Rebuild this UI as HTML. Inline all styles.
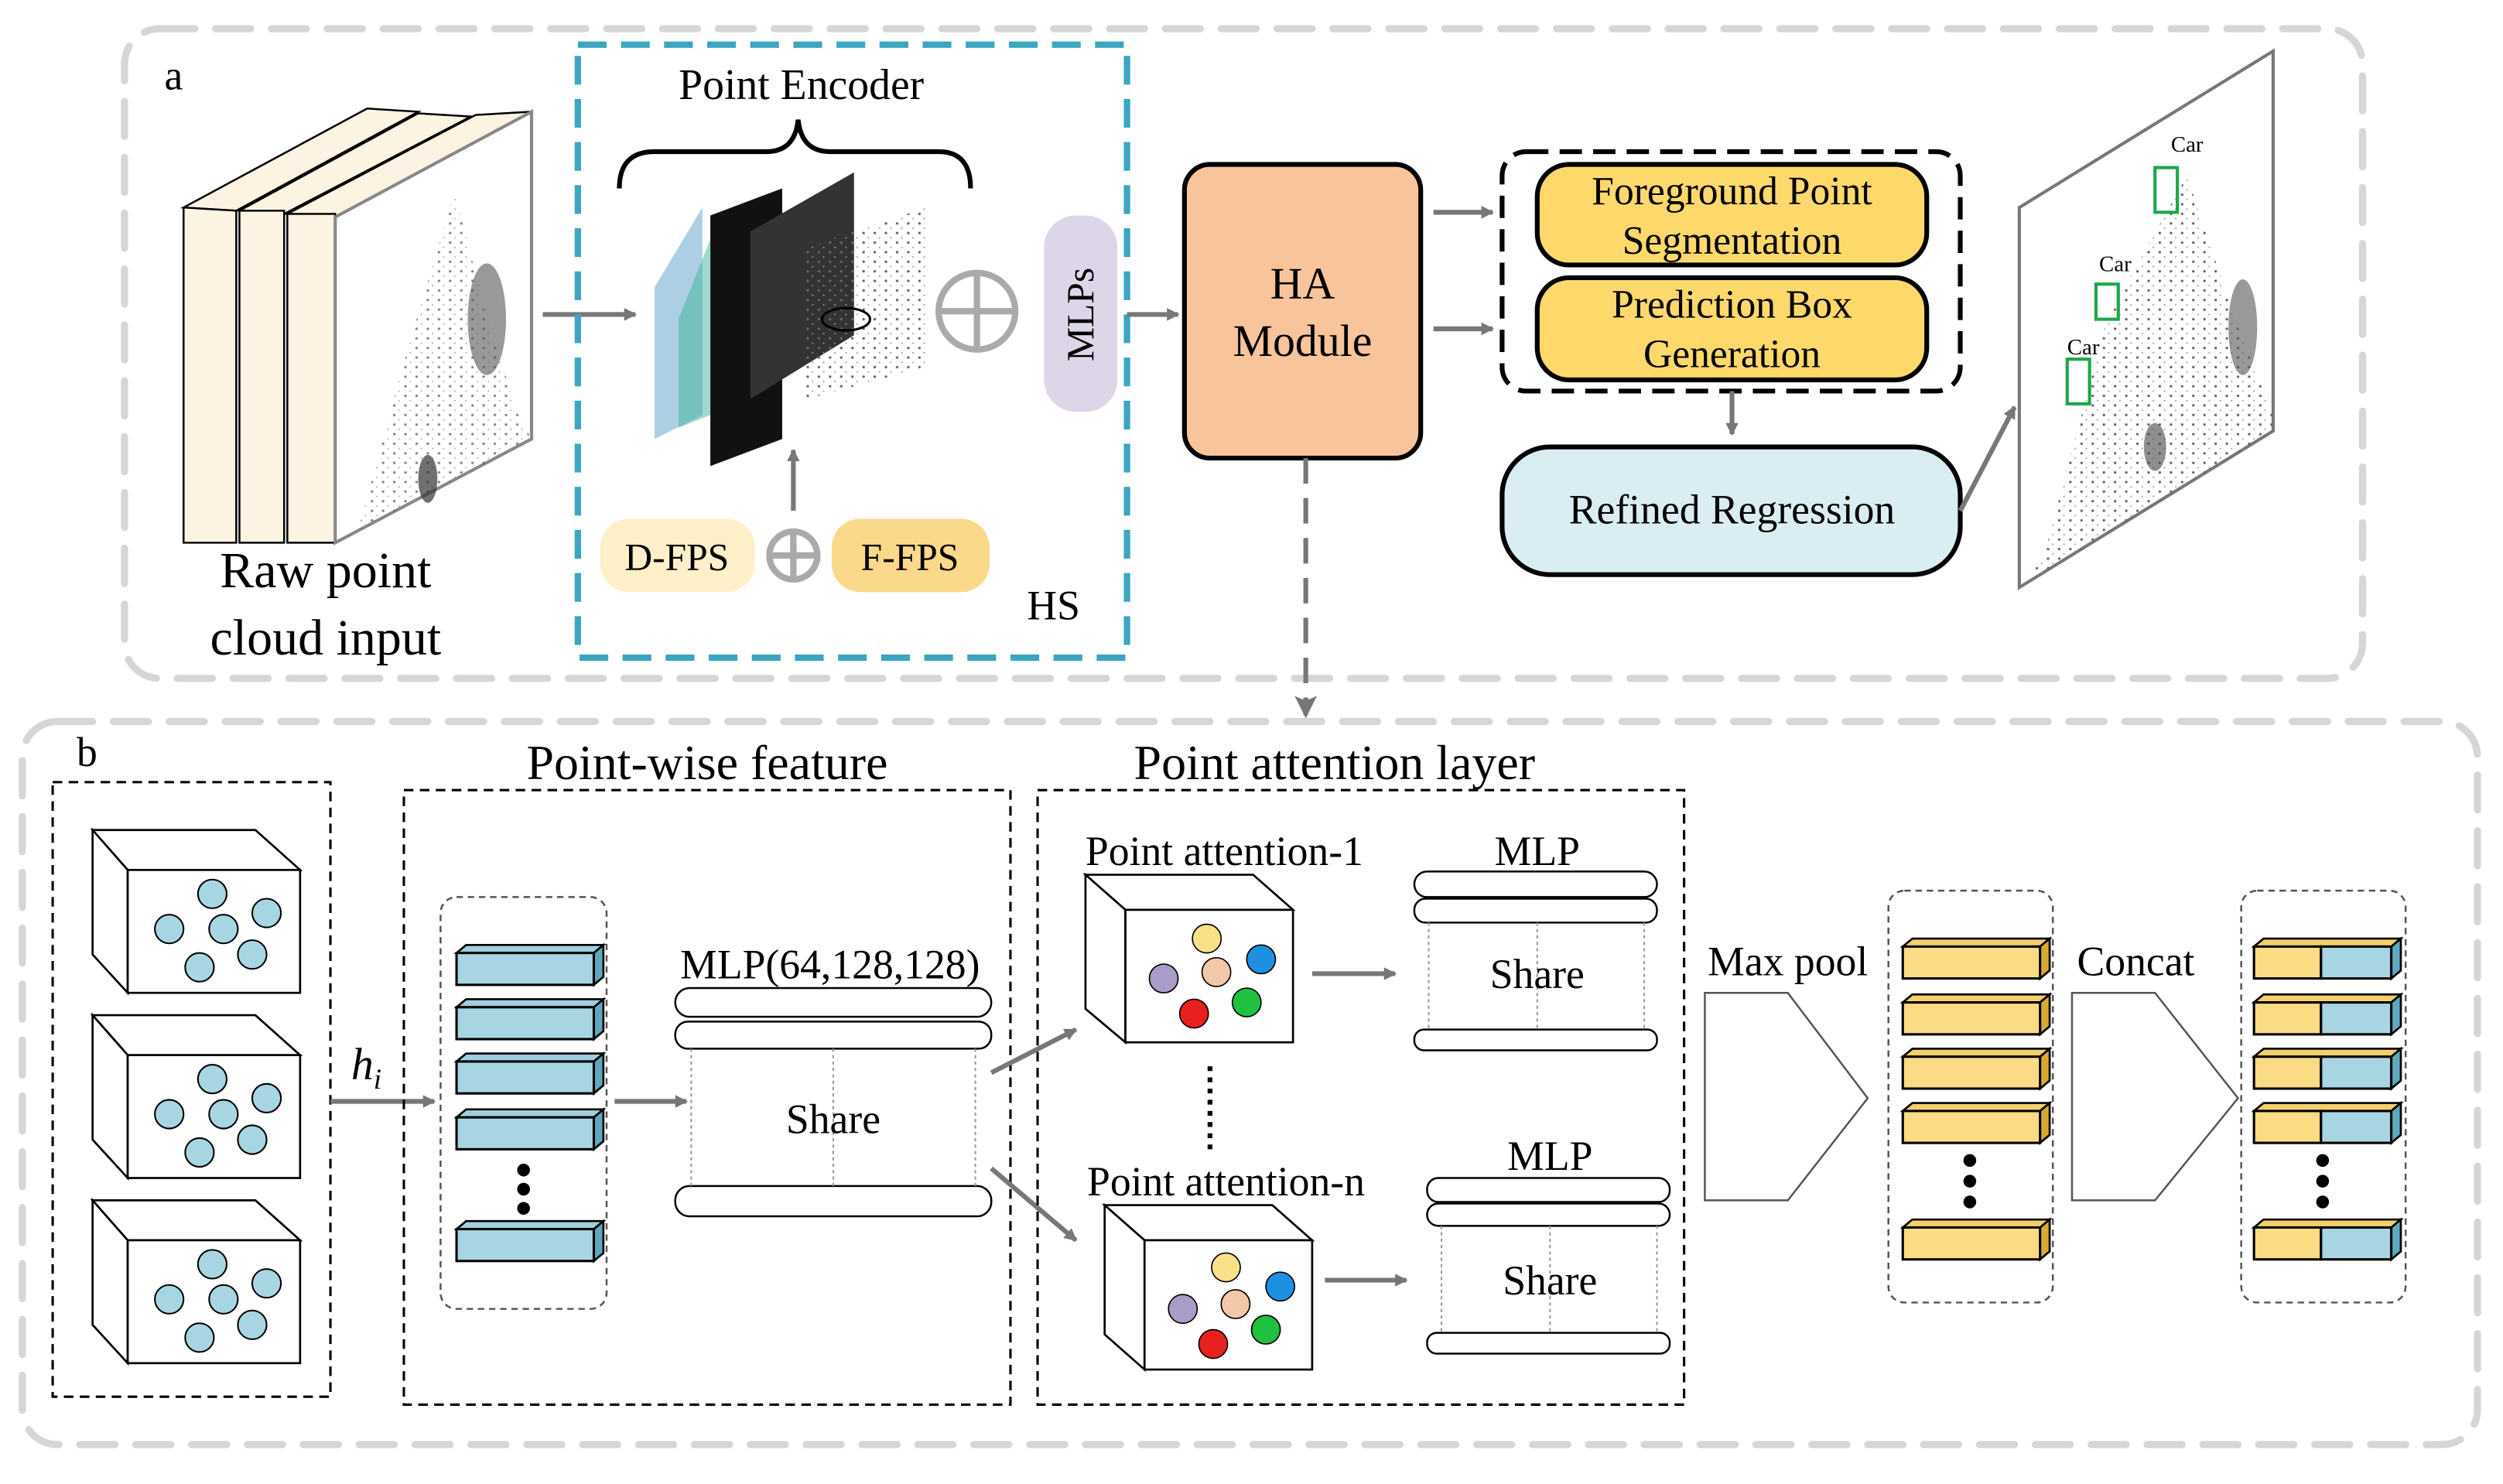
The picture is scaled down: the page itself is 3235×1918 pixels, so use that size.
<!DOCTYPE html>
<html><head><meta charset="utf-8"><style>
html,body{margin:0;padding:0;background:#fff;}
svg{display:block;}
text{font-family:"Liberation Serif",serif;fill:#000;}
</style></head><body>
<svg width="3235" height="1918" viewBox="0 0 1568 929.7" preserveAspectRatio="none" xmlns="http://www.w3.org/2000/svg">
<defs>
<marker id="ag" markerWidth="8" markerHeight="8" refX="7" refY="4" orient="auto" markerUnits="userSpaceOnUse"><path d="M0,0 L8,4 L0,8 z" fill="#777"/></marker>
<marker id="ag2" markerWidth="14" markerHeight="14" refX="12" refY="7" orient="auto" markerUnits="userSpaceOnUse"><path d="M0,0 L14,7 L0,14 L3,7 z" fill="#777"/></marker>
<pattern id="dots" width="7" height="6" patternUnits="userSpaceOnUse"><circle cx="2" cy="2" r="0.8" fill="#666"/><circle cx="5" cy="5" r="0.5" fill="#999"/></pattern>
<g id="cube">
<polygon points="0,0 102,0 130,25 22,25" fill="#fff" stroke="#000" stroke-width="1.3"/>
<polygon points="0,0 22,25 22,102 0,78" fill="#fff" stroke="#000" stroke-width="1.3"/>
<rect x="22" y="25" width="108" height="77" fill="#fff" stroke="#000" stroke-width="1.3"/>
</g>
<g id="bbar"><polygon points="0,0 6,-5 92,-5 86,0" fill="#9fcfdc" stroke="#000" stroke-width="1.3"/><polygon points="86,0 92,-5 92,15 86,20" fill="#5fa9bd" stroke="#000" stroke-width="1.3"/><rect x="0" y="0" width="86" height="20" fill="#a8d5e2" stroke="#000" stroke-width="1.5"/></g>
<g id="ybar"><polygon points="0,0 6,-5 92,-5 86,0" fill="#f5cf6c" stroke="#000" stroke-width="1.3"/><polygon points="86,0 92,-5 92,15 86,20" fill="#d9aa30" stroke="#000" stroke-width="1.3"/><rect x="0" y="0" width="86" height="20" fill="#fcdb85" stroke="#000" stroke-width="1.5"/></g>
<g id="cbar"><polygon points="0,0 6,-5 92,-5 86,0" fill="#f5cf6c" stroke="#000" stroke-width="1.3"/><polygon points="86,0 92,-5 92,15 86,20" fill="#5fa9bd" stroke="#000" stroke-width="1.3"/><rect x="0" y="0" width="42" height="20" fill="#fcdb85" stroke="#000" stroke-width="1.5"/><rect x="42" y="0" width="44" height="20" fill="#a8d5e2" stroke="#000" stroke-width="1.5"/></g>
</defs>

<!-- Panel a -->
<rect x="78" y="18" width="1402" height="407" rx="22" fill="none" stroke="#d6d6d6" stroke-width="4.5" stroke-dasharray="22 13" stroke-linecap="round"/>
<text x="103" y="56" font-size="26">a</text>

<g stroke="#000" stroke-width="1.2">
<polygon points="115,130 148,132 262,70 230,68" fill="#fdf3e3"/>
<polygon points="115,130 148,132 148,340 115,340" fill="#fdf3e3"/>
<polygon points="150,132 178,134 295,73 262,71" fill="#fdf3e3"/>
<rect x="150" y="132" width="28" height="208" fill="#fdf3e3"/>
<polygon points="180,134 210,136 333,70 298,72" fill="#fdf3e3"/>
<rect x="180" y="134" width="30" height="206" fill="#fdf3e3"/>
<polygon points="210,136 333,70 333,275 210,340" fill="#fff" stroke="#888" stroke-width="2"/>
</g>
<path d="M225,330 L255,220 L285,120 L305,200 L325,260 L333,275 L210,340 z" fill="url(#dots)" opacity="0.8"/>
<ellipse cx="305" cy="200" rx="12" ry="35" fill="#555" opacity="0.6"/>
<ellipse cx="268" cy="300" rx="6" ry="15" fill="#333" opacity="0.7"/>
<text x="204" y="368" font-size="32" text-anchor="middle">Raw point</text>
<text x="204" y="410" font-size="32" text-anchor="middle">cloud input</text>
<line x1="340" y1="197" x2="398" y2="197" stroke="#777" stroke-width="3" marker-end="url(#ag)"/>

<!-- HS box -->
<rect x="362" y="28" width="344" height="384" fill="none" stroke="#3aa6c0" stroke-width="4" stroke-dasharray="18 9"/>
<text x="502" y="62" font-size="27" text-anchor="middle">Point Encoder</text>
<path d="M388,118 Q388,95 410,95 L480,95 Q498,95 500,75 Q502,95 520,95 L588,95 Q608,95 608,118" fill="none" stroke="#000" stroke-width="3"/>
<polygon points="410,180 440,130 440,260 410,275" fill="#5b9fc8" opacity="0.5"/>
<polygon points="425,200 445,150 445,260 425,268" fill="#3cb49a" opacity="0.5"/>
<polygon points="445,135 490,118 490,275 445,292" fill="#111"/>
<polygon points="470,145 535,108 535,210 470,250" fill="#333"/>
<polygon points="505,155 580,130 580,230 505,250" fill="url(#dots)"/>
<ellipse cx="530" cy="200" rx="15" ry="7" fill="none" stroke="#000" stroke-width="1.5"/>
<circle cx="612" cy="195" r="24" fill="none" stroke="#aaa" stroke-width="4"/>
<line x1="588" y1="195" x2="636" y2="195" stroke="#aaa" stroke-width="4"/>
<line x1="612" y1="171" x2="612" y2="219" stroke="#aaa" stroke-width="4"/>
<rect x="654" y="135" width="46" height="123" rx="20" fill="#ddd6e8"/>
<text x="677" y="197" font-size="24" text-anchor="middle" transform="rotate(-90 677 197)" dy="8">MLPs</text>
<line x1="497" y1="320" x2="497" y2="282" stroke="#777" stroke-width="3" marker-end="url(#ag)"/>
<rect x="376" y="325" width="97" height="46" rx="18" fill="#fdf0c8"/>
<text x="424" y="357" font-size="24" text-anchor="middle">D-FPS</text>
<circle cx="497" cy="348" r="15" fill="none" stroke="#aaa" stroke-width="4"/>
<line x1="482" y1="348" x2="512" y2="348" stroke="#aaa" stroke-width="4"/>
<line x1="497" y1="333" x2="497" y2="363" stroke="#aaa" stroke-width="4"/>
<rect x="521" y="325" width="99" height="46" rx="18" fill="#fad98a"/>
<text x="570" y="357" font-size="24" text-anchor="middle">F-FPS</text>
<text x="660" y="388" font-size="26" text-anchor="middle">HS</text>
<line x1="706" y1="197" x2="738" y2="197" stroke="#777" stroke-width="3" marker-end="url(#ag)"/>

<!-- HA module -->
<rect x="742" y="103" width="148" height="184" rx="16" fill="#f7c49b" stroke="#000" stroke-width="3"/>
<text x="816" y="187" font-size="28" text-anchor="middle">HA</text>
<text x="816" y="223" font-size="28" text-anchor="middle">Module</text>
<line x1="898" y1="133" x2="935" y2="133" stroke="#777" stroke-width="3" marker-end="url(#ag)"/>
<line x1="898" y1="206" x2="935" y2="206" stroke="#777" stroke-width="3" marker-end="url(#ag)"/>
<rect x="941" y="95" width="287" height="150" rx="15" fill="none" stroke="#000" stroke-width="3" stroke-dasharray="14 7"/>
<rect x="963" y="103" width="244" height="63" rx="20" fill="#fdd96b" stroke="#000" stroke-width="3"/>
<text x="1085" y="128" font-size="25" text-anchor="middle">Foreground Point</text>
<text x="1085" y="159" font-size="25" text-anchor="middle">Segmentation</text>
<rect x="963" y="174" width="244" height="64" rx="20" fill="#fdd96b" stroke="#000" stroke-width="3"/>
<text x="1085" y="199" font-size="25" text-anchor="middle">Prediction Box</text>
<text x="1085" y="230" font-size="25" text-anchor="middle">Generation</text>
<line x1="1085" y1="245" x2="1085" y2="272" stroke="#777" stroke-width="3" marker-end="url(#ag)"/>
<rect x="941" y="280" width="287" height="80" rx="30" fill="#daedf2" stroke="#000" stroke-width="3"/>
<text x="1085" y="328" font-size="26" text-anchor="middle">Refined Regression</text>
<line x1="1228" y1="320" x2="1262" y2="255" stroke="#777" stroke-width="3" marker-end="url(#ag)"/>
<polygon points="1265,130 1424,32 1424,270 1265,368" fill="#fff" stroke="#777" stroke-width="2"/>
<path d="M1280,350 L1320,200 L1370,110 L1400,200 L1424,260 L1424,270 L1265,368z" fill="url(#dots)"/>
<ellipse cx="1405" cy="205" rx="9" ry="30" fill="#555" opacity="0.6"/>
<ellipse cx="1350" cy="280" rx="7" ry="15" fill="#444" opacity="0.6"/>
<g fill="none" stroke="#1aa84a" stroke-width="2">
<rect x="1295" y="225" width="14" height="28"/><rect x="1313" y="178" width="14" height="22"/><rect x="1350" y="105" width="14" height="28"/>
</g>
<g fill="#1aa84a" font-size="14"><text x="1295" y="222">Car</text><text x="1315" y="170">Car</text><text x="1360" y="95">Car</text></g>
<line x1="818" y1="287" x2="818" y2="448" stroke="#777" stroke-width="3" stroke-dasharray="16 9" marker-end="url(#ag2)"/>

<!-- Panel b -->
<rect x="14" y="452" width="1538" height="453" rx="22" fill="none" stroke="#d6d6d6" stroke-width="4.5" stroke-dasharray="22 13" stroke-linecap="round"/>
<text x="48" y="480" font-size="26">b</text>
<rect x="33" y="490" width="174" height="385" fill="none" stroke="#000" stroke-width="1.5" stroke-dasharray="6 4"/>
<use href="#cube" x="58" y="520"/>
<use href="#cube" x="58" y="636"/>
<use href="#cube" x="58" y="752"/>
<g fill="#a8d5e2" stroke="#000" stroke-width="1">
<circle cx="133" cy="560" r="9"/><circle cx="106" cy="582" r="9"/><circle cx="140" cy="582" r="9"/><circle cx="167" cy="572" r="9"/><circle cx="125" cy="606" r="9"/><circle cx="158" cy="598" r="9"/>
<circle cx="133" cy="676" r="9"/><circle cx="106" cy="698" r="9"/><circle cx="140" cy="698" r="9"/><circle cx="167" cy="688" r="9"/><circle cx="125" cy="722" r="9"/><circle cx="158" cy="714" r="9"/>
<circle cx="133" cy="792" r="9"/><circle cx="106" cy="814" r="9"/><circle cx="140" cy="814" r="9"/><circle cx="167" cy="804" r="9"/><circle cx="125" cy="838" r="9"/><circle cx="158" cy="830" r="9"/>
</g>
<text x="220" y="676" font-size="28" font-style="italic">h<tspan font-size="18" dy="6">i</tspan></text>
<line x1="207" y1="690" x2="272" y2="690" stroke="#777" stroke-width="3" marker-end="url(#ag)"/>

<text x="443" y="488" font-size="31" text-anchor="middle">Point-wise feature</text>
<rect x="253" y="495" width="380" height="385" fill="none" stroke="#000" stroke-width="1.5" stroke-dasharray="6 4"/>
<rect x="276" y="562" width="104" height="258" rx="10" fill="none" stroke="#555" stroke-width="1.2" stroke-dasharray="4 3"/>
<use href="#bbar" x="286" y="597"/><use href="#bbar" x="286" y="631"/><use href="#bbar" x="286" y="665"/><use href="#bbar" x="286" y="700"/><use href="#bbar" x="286" y="770"/>
<g fill="#000"><circle cx="328" cy="733" r="4"/><circle cx="328" cy="745" r="4"/><circle cx="328" cy="757" r="4"/></g>
<line x1="385" y1="690" x2="430" y2="690" stroke="#777" stroke-width="3" marker-end="url(#ag)"/>
<text x="520" y="613" font-size="26" text-anchor="middle">MLP(64,128,128)</text>
<g fill="#fff" stroke="#000" stroke-width="1.2">
<rect x="423" y="619" width="198" height="18" rx="9"/><rect x="423" y="640" width="198" height="17" rx="8"/>
<rect x="423" y="743" width="198" height="19" rx="9"/>
</g>
<line x1="433" y1="657" x2="433" y2="743" stroke="#999" stroke-dasharray="2 2"/><line x1="611" y1="657" x2="611" y2="743" stroke="#999" stroke-dasharray="2 2"/><line x1="522" y1="657" x2="522" y2="743" stroke="#999" stroke-dasharray="2 2"/>
<text x="522" y="710" font-size="26" text-anchor="middle">Share</text>
<line x1="621" y1="672" x2="674" y2="645" stroke="#777" stroke-width="3" marker-end="url(#ag)"/>
<line x1="621" y1="732" x2="674" y2="777" stroke="#777" stroke-width="3" marker-end="url(#ag)"/>

<text x="836" y="488" font-size="31" text-anchor="middle">Point attention layer</text>
<rect x="650" y="495" width="405" height="385" fill="none" stroke="#000" stroke-width="1.5" stroke-dasharray="6 4"/>
<text x="767" y="542" font-size="26" text-anchor="middle">Point attention-1</text>
<g stroke="#000" stroke-width="1.3" fill="#fff">
<polygon points="680,548 785,548 810,570 705,570"/><polygon points="680,548 705,570 705,653 680,632"/><rect x="705" y="570" width="105" height="83"/>
</g>
<g stroke="#000" stroke-width="0.8"><circle cx="756" cy="588" r="9" fill="#fbe08a"/><circle cx="729" cy="613" r="9" fill="#a99cc8"/><circle cx="762" cy="609" r="9" fill="#f3c8a8"/><circle cx="790" cy="601" r="9" fill="#1e90e0"/><circle cx="748" cy="635" r="9" fill="#e82020"/><circle cx="781" cy="628" r="9" fill="#20c040"/></g>
<line x1="822" y1="610" x2="874" y2="610" stroke="#777" stroke-width="3" marker-end="url(#ag)"/>
<text x="963" y="542" font-size="26" text-anchor="middle">MLP</text>
<g fill="#fff" stroke="#000" stroke-width="1.2"><rect x="886" y="546" width="152" height="16" rx="8"/><rect x="886" y="563" width="152" height="15" rx="7"/><rect x="886" y="645" width="152" height="13" rx="6"/></g>
<line x1="895" y1="578" x2="895" y2="645" stroke="#999" stroke-dasharray="2 2"/><line x1="1030" y1="578" x2="1030" y2="645" stroke="#999" stroke-dasharray="2 2"/><line x1="963" y1="578" x2="963" y2="645" stroke="#999" stroke-dasharray="2 2"/>
<text x="963" y="619" font-size="26" text-anchor="middle">Share</text>
<line x1="758" y1="668" x2="758" y2="720" stroke="#000" stroke-width="3" stroke-dasharray="3 4"/>
<text x="768" y="749" font-size="26" text-anchor="middle">Point attention-n</text>
<g stroke="#000" stroke-width="1.3" fill="#fff">
<polygon points="692,755 797,755 822,777 717,777"/><polygon points="692,755 717,777 717,858 692,836"/><rect x="717" y="777" width="105" height="81"/>
</g>
<g stroke="#000" stroke-width="0.8"><circle cx="768" cy="794" r="9" fill="#fbe08a"/><circle cx="741" cy="820" r="9" fill="#a99cc8"/><circle cx="774" cy="817" r="9" fill="#f3c8a8"/><circle cx="802" cy="806" r="9" fill="#1e90e0"/><circle cx="760" cy="842" r="9" fill="#e82020"/><circle cx="793" cy="833" r="9" fill="#20c040"/></g>
<line x1="830" y1="802" x2="881" y2="802" stroke="#777" stroke-width="3" marker-end="url(#ag)"/>
<text x="971" y="733" font-size="26" text-anchor="middle">MLP</text>
<g fill="#fff" stroke="#000" stroke-width="1.2"><rect x="894" y="738" width="152" height="15" rx="7"/><rect x="894" y="754" width="152" height="14" rx="7"/><rect x="894" y="835" width="152" height="13" rx="6"/></g>
<line x1="903" y1="768" x2="903" y2="835" stroke="#999" stroke-dasharray="2 2"/><line x1="1038" y1="768" x2="1038" y2="835" stroke="#999" stroke-dasharray="2 2"/><line x1="971" y1="768" x2="971" y2="835" stroke="#999" stroke-dasharray="2 2"/>
<text x="971" y="811" font-size="26" text-anchor="middle">Share</text>

<text x="1120" y="611" font-size="26" text-anchor="middle">Max pool</text>
<polygon points="1068,622 1120,622 1170,688 1120,752 1068,752" fill="#fff" stroke="#555" stroke-width="1.2"/>
<rect x="1183" y="558" width="103" height="258" rx="10" fill="none" stroke="#555" stroke-width="1.2" stroke-dasharray="4 3"/>
<use href="#ybar" x="1192" y="593"/><use href="#ybar" x="1192" y="628"/><use href="#ybar" x="1192" y="662"/><use href="#ybar" x="1192" y="696"/><use href="#ybar" x="1192" y="769"/>
<g fill="#000"><circle cx="1234" cy="727" r="4"/><circle cx="1234" cy="740" r="4"/><circle cx="1234" cy="753" r="4"/></g>
<text x="1338" y="611" font-size="26" text-anchor="middle">Concat</text>
<polygon points="1298,622 1350,622 1402,688 1350,752 1298,752" fill="#fff" stroke="#555" stroke-width="1.2"/>
<rect x="1404" y="558" width="103" height="258" rx="10" fill="none" stroke="#555" stroke-width="1.2" stroke-dasharray="4 3"/>
<use href="#cbar" x="1412" y="593"/><use href="#cbar" x="1412" y="628"/><use href="#cbar" x="1412" y="662"/><use href="#cbar" x="1412" y="696"/><use href="#cbar" x="1412" y="769"/>
<g fill="#000"><circle cx="1455" cy="727" r="4"/><circle cx="1455" cy="740" r="4"/><circle cx="1455" cy="753" r="4"/></g>
</svg>
</body></html>
